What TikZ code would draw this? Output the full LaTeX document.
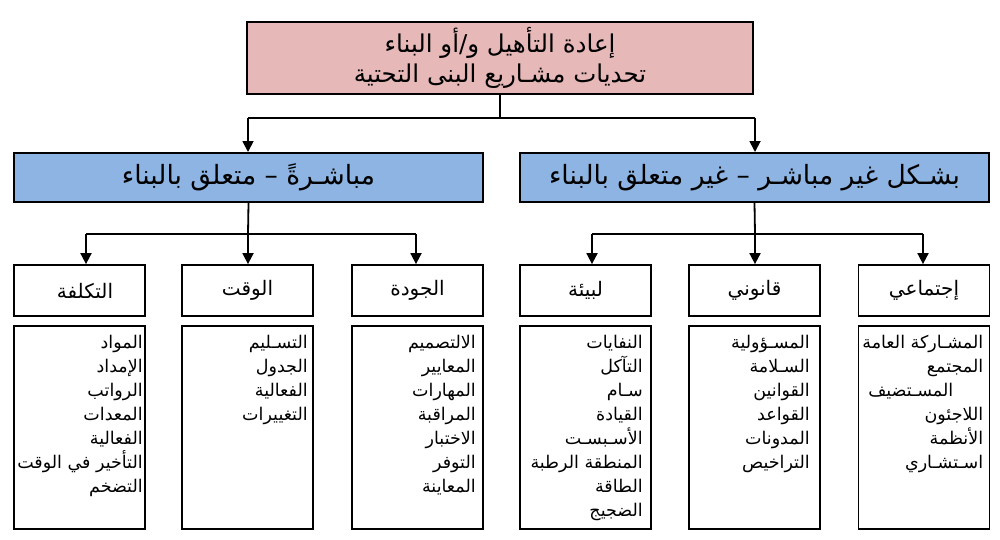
\documentclass[tikz,border=0pt]{standalone}
\usepackage{fontspec}
\usetikzlibrary{arrows.meta}
\TeXXeTstate=1
\newfontfamily\arabicfont[Script=Arabic]{DejaVu Sans}
\definecolor{toppink}{RGB}{230,184,183}
\definecolor{midblue}{RGB}{141,180,226}
\newcommand{\AR}[1]{\beginR #1\endR}
\tikzset{
  box/.style={draw=black, line width=2pt, inner sep=0pt},
  topbox/.style={box, fill=toppink, minimum width=506pt, minimum height=72pt,
     align=center, font=\arabicfont\fontsize{24.5}{30}\selectfont},
  midbox/.style={box, fill=midblue, minimum width=469pt, minimum height=49pt,
     font=\arabicfont\fontsize{26.5}{30}\selectfont},
  catbox/.style={box, line width=1.8pt, fill=white, minimum width=131pt, minimum height=51pt,
     font=\arabicfont\fontsize{20}{24}\selectfont},
  detbox/.style={box, line width=1.8pt, fill=white, minimum width=131pt, minimum height=203pt},
  listtext/.style={inner sep=0pt, align=right, anchor=north east,
     font=\arabicfont\fontsize{17.5}{24}\selectfont},
  conn/.style={line width=1.8pt},
  arr/.style={line width=1.8pt, -{Triangle[width=11pt,length=11pt]}}
}
\begin{document}
\begin{tikzpicture}[x=1pt,y=-1pt]
\useasboundingbox[fill=white] (0,0) rectangle (1000,539);

\node[topbox] (top) at (500,58) {\AR{إعادة التأهيل و/أو البناء}\\\AR{تحديات مشـاريع البنى التحتية}};

\node[midbox] (dir) at (248.5,177.5) {\AR{مباشـرةً – متعلق بالبناء}};
\node[midbox] (ind) at (754.5,177.5) {\AR{بشـكل غير مباشـر – غير متعلق بالبناء}};

\coordinate (b0) at (500,118);
\coordinate (bL) at (248,118);
\coordinate (bR) at (755,118);
\draw[conn] (top.south) -- (b0);
\draw[conn] (bL) -- (bR);
\draw[arr] (bL) -- (bL |- dir.north);
\draw[arr] (bR) -- (bR |- ind.north);

% categories
\node[catbox] (cost) at (79.5,290.5) {\hspace*{11pt}\AR{التكلفة}};
\node[catbox] (time) at (247.5,290.5) {\AR{الوقت}};
\node[catbox] (qual) at (417.5,290.5) {\AR{الجودة}};
\node[catbox] (env) at (585.5,290.5) {\AR{لبيئة}};
\node[catbox] (law) at (754.5,290.5) {\AR{قانوني}};
\node[catbox] (soc) at (924,290.5) {\AR{إجتماعي}};

\coordinate (l0) at (248,234);
\coordinate (l1) at (86,234);
\coordinate (l3) at (416,234);
\draw[conn] (dir.south) -- (l0);
\draw[conn] (l1) -- (l3);
\draw[arr] (l1) -- (l1 |- cost.north);
\draw[arr] (l0) -- (l0 |- time.north);
\draw[arr] (l3) -- (l3 |- qual.north);

\coordinate (r0) at (755,234);
\coordinate (r1) at (592,234);
\coordinate (r3) at (923,234);
\draw[conn] (ind.south) -- (r0);
\draw[conn] (r1) -- (r3);
\draw[arr] (r1) -- (r1 |- env.north);
\draw[arr] (r0) -- (r0 |- law.north);
\draw[arr] (r3) -- (r3 |- soc.north);

% detail boxes
\node[detbox] (dcost) at (79.5,427.5) {};
\node[detbox] (dtime) at (247.5,427.5) {};
\node[detbox] (dqual) at (417.5,427.5) {};
\node[detbox] (denv) at (585.5,427.5) {};
\node[detbox] (dlaw) at (754.5,427.5) {};
\node[detbox] (dsoc) at (924,427.5) {};

\node[listtext] (tcost) at ([xshift=-3pt,yshift=-10pt]dcost.north east)
 {\AR{المواد}\\\AR{الإمداد}\\\AR{الرواتب}\\\AR{المعدات}\\\AR{الفعالية}\\\AR{التأخير في الوقت}\\\AR{التضخم}};
\node[listtext] (ttime) at ([xshift=-6pt,yshift=-10pt]dtime.north east)
 {\AR{التسـليم}\\\AR{الجدول}\\\AR{الفعالية}\\\AR{التغييرات}};
\node[listtext] (tqual) at ([xshift=-8pt,yshift=-10pt]dqual.north east)
 {\AR{الالتصميم}\\\AR{المعايير}\\\AR{المهارات}\\\AR{المراقبة}\\\AR{الاختبار}\\\AR{التوفر}\\\AR{المعاينة}};
\node[listtext] (tenv) at ([xshift=-9pt,yshift=-10pt]denv.north east)
 {\AR{النفايات}\\\AR{التآكل}\\\AR{سـام}\\\AR{القيادة}\\\AR{الأسـبسـت}\\\AR{المنطقة الرطبة}\\\AR{الطاقة}\\\AR{الضجيج}};
\node[listtext] (tlaw) at ([xshift=-11pt,yshift=-10pt]dlaw.north east)
 {\AR{المسـؤولية}\\\AR{السـلامة}\\\AR{القوانين}\\\AR{القواعد}\\\AR{المدونات}\\\AR{التراخيص}};
\node[listtext] (tsoc) at ([xshift=-7pt,yshift=-10pt]dsoc.north east)
 {\AR{المشـاركة العامة}\\\AR{المجتمع}\\\AR{المسـتضيف}\kern30pt\mbox{}\\\AR{اللاجئون}\\\AR{الأنظمة}\\\AR{اسـتشـاري}};
\end{tikzpicture}
\end{document}
